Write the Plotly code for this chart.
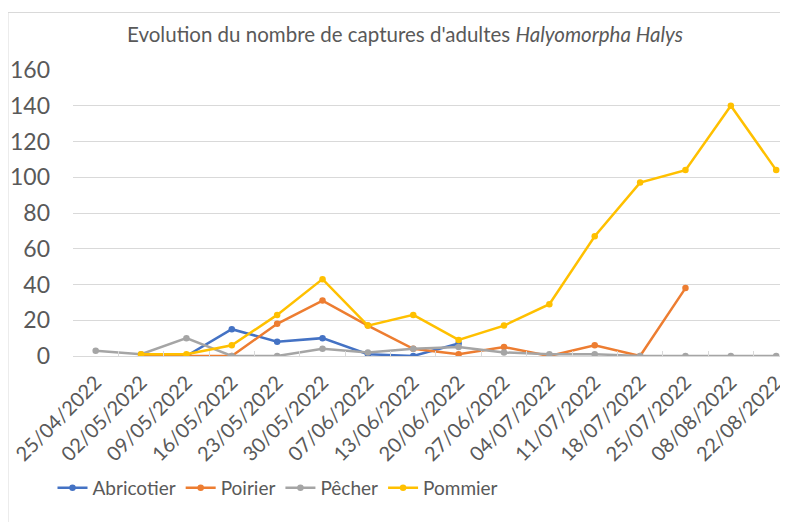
import plotly.graph_objects as go

dates = ["25/04/2022", "02/05/2022", "09/05/2022", "16/05/2022", "23/05/2022",
         "30/05/2022", "07/06/2022", "13/06/2022", "20/06/2022", "27/06/2022",
         "04/07/2022", "11/07/2022", "18/07/2022", "25/07/2022", "08/08/2022",
         "22/08/2022"]

abricotier = [None, None, 0, 15, 8, 10, 1, 0, 7, None, None, None, None, None, None, None]
poirier = [None, 0, 0, 0, 18, 31, 17, 4, 1, 5, 0, 6, 0, 38, None, None]
pecher = [3, 1, 10, 0, 0, 4, 2, 4, 5, 2, 1, 1, 0, 0, 0, 0]
pommier = [None, 1, 1, 6, 23, 43, 17, 23, 9, 17, 29, 67, 97, 104, 140, 104]

series = [
    ("Abricotier", abricotier, "#4472C4"),
    ("Poirier", poirier, "#ED7D31"),
    ("Pêcher", pecher, "#A5A5A5"),
    ("Pommier", pommier, "#FFC000"),
]

FONT = "Lato, Carlito, sans-serif"
GREY = "#595959"

# page body has an 8px margin: figure coordinates = screen - 8
W, H = 780, 514
L, T, PH = 65, 62, 286
PW = W - L

fig = go.Figure()
for name, vals, color in series:
    fig.add_trace(go.Scatter(
        x=dates, y=vals, name=name, mode="lines+markers",
        line=dict(color=color, width=2.5),
        marker=dict(color=color, size=6.5),
        connectgaps=False,
    ))

fig.update_layout(
    width=W, height=H,
    margin=dict(l=L, r=0, t=T, b=H - T - PH, autoexpand=False),
    paper_bgcolor="white", plot_bgcolor="white",
    font=dict(family=FONT, color=GREY),
    title=dict(
        text="Evolution du nombre de captures d'adultes <i>Halyomorpha Halys</i>",
        x=(405 - 8) / W, xanchor="center", y=1 - 27 / H, yanchor="middle",
        font=dict(size=20.5, color=GREY, family=FONT),
    ),
    xaxis=dict(
        type="category", range=[-0.5, 15.26], automargin=False,
        tickangle=-45, tickfont=dict(size=20, color=GREY), ticklabelstandoff=6,
        showgrid=False, showline=True, linecolor="#D9D9D9", linewidth=1,
        ticks="inside", tickson="boundaries", ticklen=5, tickcolor="#D9D9D9",
    ),
    yaxis=dict(
        range=[0, 160], dtick=20, tickfont=dict(size=23, color=GREY),
        automargin=False,
        showgrid=True, gridcolor="#D9D9D9", gridwidth=1,
        zeroline=False, showline=False, ticklabelstandoff=22,
    ),
    legend=dict(
        orientation="h", x=(44.5 - L) / PW, xanchor="left",
        y=(348 - 480) / PH, yanchor="middle",
        font=dict(size=19, color=GREY), itemwidth=30, tracegroupgap=0,
    ),
    showlegend=True,
)

left = (0 - L) / PW
top = (T + PH - 4.5) / PH
bottom = -(H - T - PH) / PH
fig.add_shape(type="line", xref="paper", yref="paper", x0=left, x1=left, y0=bottom, y1=top,
              line=dict(color="#D9D9D9", width=1))
fig.add_shape(type="line", xref="paper", yref="paper", x0=left, x1=1.05, y0=top, y1=top,
              line=dict(color="#D9D9D9", width=1))

fig.write_html("out.html")
